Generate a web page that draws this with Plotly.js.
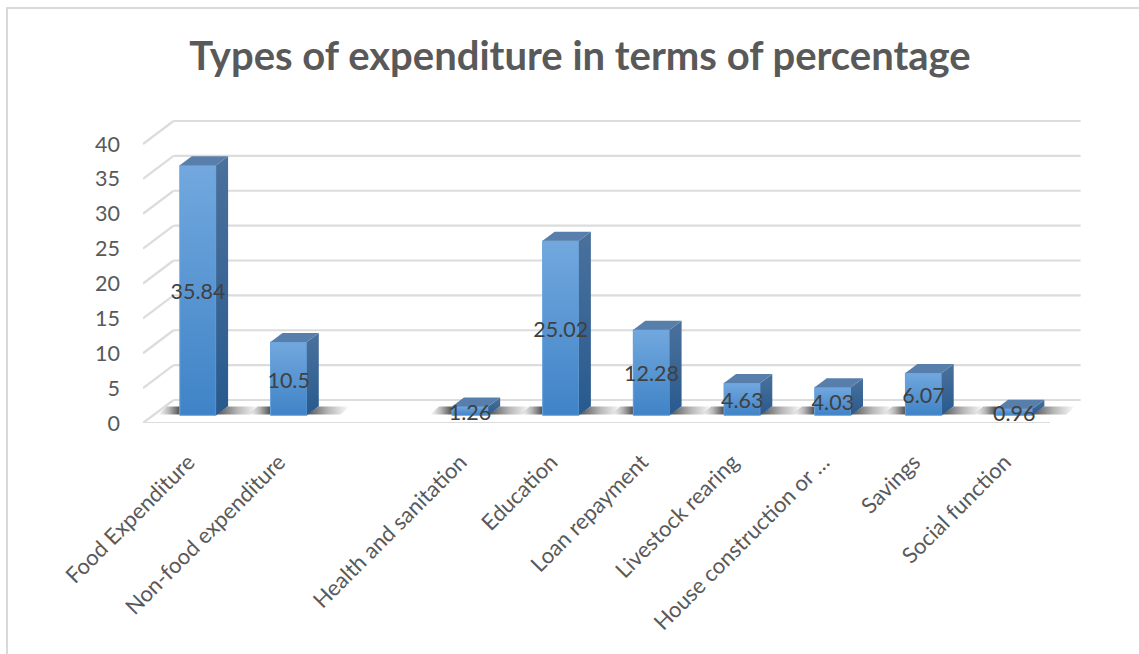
<!DOCTYPE html>
<html>
<head>
<meta charset="utf-8">
<script src="https://cdn.plot.ly/plotly-3.0.1.min.js"></script>
<style>
html,body{margin:0;padding:0;background:#fff;overflow:hidden}
#chart{position:absolute;left:0;top:0;width:1139px;height:654px}
#frame{position:absolute;left:6px;top:7px;right:0;bottom:0;border-top:2px solid #d9d9d9;border-left:2px solid #d9d9d9;pointer-events:none}
</style>
</head>
<body>
<div id="chart"></div>
<div id="frame"></div>
<script>
const chartTitle = "Types of expenditure in terms of percentage";
const categories = ["Food Expenditure","Non-food expenditure","","Health and sanitation","Education","Loan repayment","Livestock rearing","House construction or …","Savings","Social function"];
const values = [35.84,10.5,null,1.26,25.02,12.28,4.63,4.03,6.07,0.96];
const yTicks = [0,5,10,15,20,25,30,35,40];

const FONT = "Lato, 'Open Sans', sans-serif";
// pixel scale of the frame
const pxX = 90.73, pxY = 6.975;
const left = 142.7, floorY = 423;
const plotRight = 1100, plotTop = 100;
// depth of the floor/walls and of the bars, expressed in axis units
const wallDX = 30.6/pxX, wallDY = 23/pxY;
const barDX = 12/pxX, barDY = 9/pxY;
const shiftX = (wallDX/3)-0.6/pxX, shiftY = wallDY/3;
const barW = 36.3/pxX;
const labelDrop = 3.5/pxY;

const xMin = -0.5, xMax = 9.5;
const shapes = [];
const gridLine = {color:"#dcdcdc", width:2.2};
function seg(x0,y0,x1,y1){shapes.push({type:"line",layer:"below",xref:"x",yref:"y",x0,y0,x1,y1,line:gridLine});}
yTicks.forEach(v=>{
  seg(xMin,v,xMin+wallDX,v+wallDY);
  seg(xMin+wallDX,v+wallDY,xMax+wallDX,v+wallDY);
});
seg(xMin,0,xMax,0);

const traces = [];
const idx = categories.map((c,i)=>i).filter(i=>values[i]!==null);

// floor shadows
const shHalf = 46/pxX, shLow = 1.22, shHigh = 2.37, shSkew = 9/pxX;
idx.forEach(i=>{
  const c = i+shiftX, h = barW/2, mid = c+6/pxX;
  traces.push({x:[mid-shHalf,c-h,c-h,mid-shHalf+shSkew,mid-shHalf],y:[shLow,shLow,shHigh,shHigh,shLow],
    mode:"none",fill:"toself",hoverinfo:"skip",showlegend:false,
    fillgradient:{type:"horizontal",colorscale:[[0,"rgba(50,50,50,0)"],[0.5,"rgba(50,50,50,0.35)"],[1,"rgba(50,50,50,0.85)"]]}});
  traces.push({x:[c+h,mid+shHalf,mid+shHalf+shSkew,c+h+barDX,c+h],y:[shLow,shLow,shHigh,shHigh,shLow],
    mode:"none",fill:"toself",hoverinfo:"skip",showlegend:false,
    fillgradient:{type:"horizontal",colorscale:[[0,"rgba(50,50,50,0.85)"],[0.5,"rgba(50,50,50,0.35)"],[1,"rgba(50,50,50,0)"]]}});
});

// bar fronts
traces.push({type:"bar",x:idx.map(i=>i+shiftX),y:idx.map(i=>values[i]),base:shiftY,width:barW,
  marker:{color:"#5795d4",line:{width:0}},showlegend:false,
  hovertext:idx.map(i=>categories[i]),hoverinfo:"text+y"});

idx.forEach(i=>{
  const v = values[i], c = i+shiftX, h = barW/2, b = shiftY, t = shiftY+v;
  // gradient on front
  traces.push({x:[c-h,c+h,c+h,c-h,c-h],y:[b,b,t,t,b],mode:"lines",line:{color:"#6aa3dc",width:1},
    fill:"toself",hoverinfo:"skip",showlegend:false,
    fillgradient:{type:"vertical",colorscale:[[0,"#3f83c7"],[1,"#72a8de"]]}});
  // side face
  traces.push({x:[c+h,c+h+barDX,c+h+barDX,c+h,c+h],y:[b,b+barDY,t+barDY,t,b],mode:"none",
    fill:"toself",hoverinfo:"skip",showlegend:false,
    fillgradient:{type:"vertical",colorscale:[[0,"#285a8e"],[1,"#4b719c"]]}});
  // top face
  traces.push({x:[c-h,c+h,c+h+barDX,c-h+barDX,c-h],y:[t,t,t+barDY,t+barDY,t],mode:"none",
    fill:"toself",fillcolor:"#587fab",hoverinfo:"skip",showlegend:false});
});

// data labels
traces.push({x:idx.map(i=>i+shiftX),y:idx.map(i=>shiftY+values[i]/2-labelDrop),mode:"text",
  text:idx.map(i=>String(values[i])),textposition:"middle center",
  textfont:{family:FONT,size:21.5,color:"#404040"},hoverinfo:"skip",showlegend:false,cliponaxis:false});

const layout = {
  width:1139,height:654,
  margin:{l:left,r:1139-plotRight,t:plotTop,b:654-floorY,pad:0},
  paper_bgcolor:"#fff",plot_bgcolor:"rgba(0,0,0,0)",
  showlegend:false,
  title:{text:"<b>"+chartTitle+"</b>",x:580/1139,xanchor:"center",y:1-56/654,yanchor:"middle",
    font:{family:FONT,size:40,color:"#595959"}},
  xaxis:{range:[xMin,xMin+(plotRight-left)/pxX],tickvals:idx,ticktext:idx.map(i=>categories[i]),
    tickangle:-45,ticklen:0,showgrid:false,zeroline:false,showline:false,ticklabelstandoff:21,
    tickfont:{family:FONT,size:22,color:"#595959"}},
  yaxis:{range:[0,(floorY-plotTop)/pxY],tickvals:yTicks,ticktext:yTicks.map(String),ticklen:0,
    showgrid:false,zeroline:false,showline:false,ticklabelstandoff:22,
    tickfont:{family:FONT,size:21.5,color:"#595959"}},
  bargap:0,shapes
};
Plotly.newPlot("chart",traces,layout,{displayModeBar:false,staticPlot:false});
</script>
</body>
</html>
